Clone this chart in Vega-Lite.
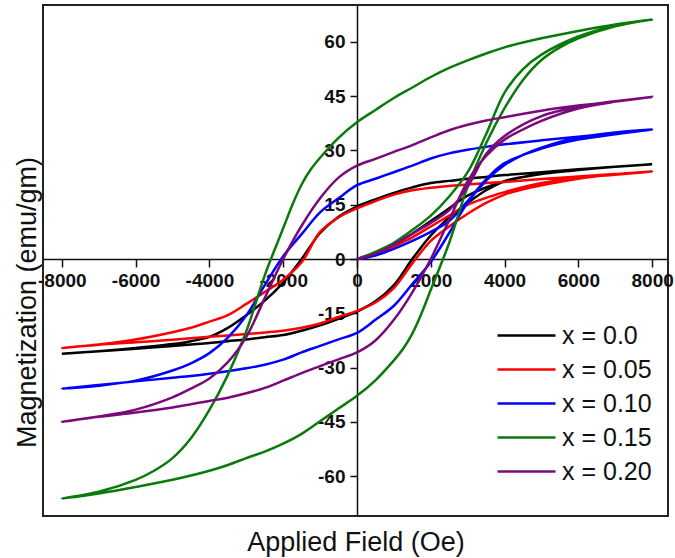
{
"$schema": "https://vega.github.io/schema/vega-lite/v6.json",
"width": 625, "height": 511,
"autosize": {"type": "none"},
"padding": {"left": 43, "top": 5, "right": 7, "bottom": 42},
"background": "white",
"config": {"view": {"stroke": "#222", "strokeWidth": 2}, "font": "Liberation Sans"},
"data": {"values": [
{"s":"x = 0.0","h":0,"m":0},{"s":"x = 0.0","h":500,"m":1.5},{"s":"x = 0.0","h":1000,"m":4},{"s":"x = 0.0","h":1500,"m":7},{"s":"x = 0.0","h":2000,"m":10.5},{"s":"x = 0.0","h":2500,"m":14},{"s":"x = 0.0","h":3000,"m":17.5},{"s":"x = 0.0","h":4000,"m":21.5},{"s":"x = 0.0","h":5000,"m":23.5},{"s":"x = 0.0","h":6000,"m":24.7},{"s":"x = 0.0","h":7000,"m":25.5},{"s":"x = 0.0","h":8000,"m":26.2},
{"s":"x = 0.0","h":7000,"m":25.5},{"s":"x = 0.0","h":6000,"m":24.8},{"s":"x = 0.0","h":5000,"m":24.0},{"s":"x = 0.0","h":4000,"m":23.2},{"s":"x = 0.0","h":3500,"m":22.7},{"s":"x = 0.0","h":3000,"m":22.2},{"s":"x = 0.0","h":2500,"m":21.6},{"s":"x = 0.0","h":2000,"m":21.0},{"s":"x = 0.0","h":1500,"m":19.8},{"s":"x = 0.0","h":1000,"m":18.3},{"s":"x = 0.0","h":500,"m":16.5},{"s":"x = 0.0","h":0,"m":14.5},{"s":"x = 0.0","h":-500,"m":11.7},{"s":"x = 0.0","h":-1000,"m":7.2},{"s":"x = 0.0","h":-1500,"m":0.0},{"s":"x = 0.0","h":-2000,"m":-6.5},{"s":"x = 0.0","h":-2500,"m":-11.5},{"s":"x = 0.0","h":-3000,"m":-15.5},{"s":"x = 0.0","h":-3500,"m":-19.0},{"s":"x = 0.0","h":-4000,"m":-21.5},{"s":"x = 0.0","h":-4500,"m":-22.7},{"s":"x = 0.0","h":-5000,"m":-23.5},{"s":"x = 0.0","h":-6000,"m":-24.6},{"s":"x = 0.0","h":-7000,"m":-25.5},{"s":"x = 0.0","h":-8000,"m":-26.2},
{"s":"x = 0.0","h":-7000,"m":-25.5},{"s":"x = 0.0","h":-6000,"m":-24.8},{"s":"x = 0.0","h":-5000,"m":-24.0},{"s":"x = 0.0","h":-4500,"m":-23.6},{"s":"x = 0.0","h":-4000,"m":-23.2},{"s":"x = 0.0","h":-3500,"m":-22.7},{"s":"x = 0.0","h":-3000,"m":-22.2},{"s":"x = 0.0","h":-2500,"m":-21.6},{"s":"x = 0.0","h":-2000,"m":-21.0},{"s":"x = 0.0","h":-1500,"m":-19.8},{"s":"x = 0.0","h":-1000,"m":-18.3},{"s":"x = 0.0","h":-500,"m":-16.5},{"s":"x = 0.0","h":0,"m":-14.5},{"s":"x = 0.0","h":500,"m":-11.7},{"s":"x = 0.0","h":1000,"m":-7.2},{"s":"x = 0.0","h":1500,"m":0.0},{"s":"x = 0.0","h":2000,"m":6.5},{"s":"x = 0.0","h":2500,"m":11.5},{"s":"x = 0.0","h":3000,"m":15.5},{"s":"x = 0.0","h":3500,"m":19.0},{"s":"x = 0.0","h":4000,"m":21.5},{"s":"x = 0.0","h":4500,"m":22.7},{"s":"x = 0.0","h":5000,"m":23.5},{"s":"x = 0.0","h":6000,"m":24.6},{"s":"x = 0.0","h":7000,"m":25.5},{"s":"x = 0.0","h":8000,"m":26.2},

{"s":"x = 0.05","h":0,"m":0},{"s":"x = 0.05","h":500,"m":1.2},{"s":"x = 0.05","h":1000,"m":3.5},{"s":"x = 0.05","h":1500,"m":6},{"s":"x = 0.05","h":2000,"m":9},{"s":"x = 0.05","h":2500,"m":12},{"s":"x = 0.05","h":3000,"m":15},{"s":"x = 0.05","h":4000,"m":18.5},{"s":"x = 0.05","h":5000,"m":21},{"s":"x = 0.05","h":6000,"m":22.5},{"s":"x = 0.05","h":7000,"m":23.3},{"s":"x = 0.05","h":8000,"m":24.2},
{"s":"x = 0.05","h":7000,"m":23.5},{"s":"x = 0.05","h":6000,"m":22.8},{"s":"x = 0.05","h":5000,"m":22.1},{"s":"x = 0.05","h":4000,"m":21.3},{"s":"x = 0.05","h":3500,"m":21.0},{"s":"x = 0.05","h":3000,"m":20.6},{"s":"x = 0.05","h":2500,"m":20.2},{"s":"x = 0.05","h":2000,"m":19.7},{"s":"x = 0.05","h":1500,"m":19.0},{"s":"x = 0.05","h":1000,"m":17.8},{"s":"x = 0.05","h":500,"m":16.0},{"s":"x = 0.05","h":0,"m":14.0},{"s":"x = 0.05","h":-500,"m":11.5},{"s":"x = 0.05","h":-1000,"m":7.5},{"s":"x = 0.05","h":-1500,"m":-0.9},{"s":"x = 0.05","h":-2000,"m":-5.7},{"s":"x = 0.05","h":-2500,"m":-9.1},{"s":"x = 0.05","h":-3000,"m":-12.4},{"s":"x = 0.05","h":-3500,"m":-15.5},{"s":"x = 0.05","h":-4000,"m":-17.3},{"s":"x = 0.05","h":-4500,"m":-19.0},{"s":"x = 0.05","h":-5000,"m":-20.2},{"s":"x = 0.05","h":-6000,"m":-22.2},{"s":"x = 0.05","h":-7000,"m":-23.6},{"s":"x = 0.05","h":-8000,"m":-24.6},
{"s":"x = 0.05","h":-7000,"m":-23.7},{"s":"x = 0.05","h":-6000,"m":-23.0},{"s":"x = 0.05","h":-5000,"m":-22.3},{"s":"x = 0.05","h":-4500,"m":-21.9},{"s":"x = 0.05","h":-4000,"m":-21.5},{"s":"x = 0.05","h":-3500,"m":-21.1},{"s":"x = 0.05","h":-3000,"m":-20.7},{"s":"x = 0.05","h":-2500,"m":-20.3},{"s":"x = 0.05","h":-2000,"m":-19.8},{"s":"x = 0.05","h":-1500,"m":-19.0},{"s":"x = 0.05","h":-1000,"m":-17.8},{"s":"x = 0.05","h":-500,"m":-16.0},{"s":"x = 0.05","h":0,"m":-14.3},{"s":"x = 0.05","h":500,"m":-12.0},{"s":"x = 0.05","h":1000,"m":-8.0},{"s":"x = 0.05","h":1500,"m":-1.2},{"s":"x = 0.05","h":2000,"m":5.0},{"s":"x = 0.05","h":2500,"m":9.0},{"s":"x = 0.05","h":3000,"m":12.5},{"s":"x = 0.05","h":3500,"m":15.5},{"s":"x = 0.05","h":4000,"m":17.8},{"s":"x = 0.05","h":4500,"m":19.3},{"s":"x = 0.05","h":5000,"m":20.4},{"s":"x = 0.05","h":6000,"m":22.2},{"s":"x = 0.05","h":7000,"m":23.4},{"s":"x = 0.05","h":8000,"m":24.2},

{"s":"x = 0.10","h":0,"m":0},{"s":"x = 0.10","h":500,"m":1},{"s":"x = 0.10","h":1000,"m":2.8},{"s":"x = 0.10","h":1500,"m":5},{"s":"x = 0.10","h":2000,"m":7.5},{"s":"x = 0.10","h":2500,"m":10.5},{"s":"x = 0.10","h":3000,"m":16},{"s":"x = 0.10","h":3500,"m":22},{"s":"x = 0.10","h":4000,"m":26.5},{"s":"x = 0.10","h":5000,"m":30.5},{"s":"x = 0.10","h":6000,"m":33},{"s":"x = 0.10","h":7000,"m":34.5},{"s":"x = 0.10","h":8000,"m":35.8},
{"s":"x = 0.10","h":7000,"m":34.8},{"s":"x = 0.10","h":6000,"m":33.8},{"s":"x = 0.10","h":5000,"m":32.8},{"s":"x = 0.10","h":4000,"m":31.7},{"s":"x = 0.10","h":3500,"m":31.0},{"s":"x = 0.10","h":3000,"m":30.2},{"s":"x = 0.10","h":2500,"m":29.2},{"s":"x = 0.10","h":2000,"m":27.8},{"s":"x = 0.10","h":1500,"m":25.8},{"s":"x = 0.10","h":1000,"m":24.0},{"s":"x = 0.10","h":500,"m":22.2},{"s":"x = 0.10","h":0,"m":20.4},{"s":"x = 0.10","h":-500,"m":16.8},{"s":"x = 0.10","h":-1000,"m":12.9},{"s":"x = 0.10","h":-1500,"m":6.9},{"s":"x = 0.10","h":-2000,"m":0.8},{"s":"x = 0.10","h":-2500,"m":-7.2},{"s":"x = 0.10","h":-3000,"m":-15.6},{"s":"x = 0.10","h":-3500,"m":-21.7},{"s":"x = 0.10","h":-4000,"m":-26.0},{"s":"x = 0.10","h":-4500,"m":-28.8},{"s":"x = 0.10","h":-5000,"m":-30.8},{"s":"x = 0.10","h":-6000,"m":-33.6},{"s":"x = 0.10","h":-7000,"m":-35.0},{"s":"x = 0.10","h":-8000,"m":-35.8},
{"s":"x = 0.10","h":-7000,"m":-34.8},{"s":"x = 0.10","h":-6000,"m":-33.8},{"s":"x = 0.10","h":-5000,"m":-32.8},{"s":"x = 0.10","h":-4500,"m":-32.3},{"s":"x = 0.10","h":-4000,"m":-31.7},{"s":"x = 0.10","h":-3500,"m":-31.0},{"s":"x = 0.10","h":-3000,"m":-30.2},{"s":"x = 0.10","h":-2500,"m":-29.2},{"s":"x = 0.10","h":-2000,"m":-27.8},{"s":"x = 0.10","h":-1500,"m":-25.8},{"s":"x = 0.10","h":-1000,"m":-24.0},{"s":"x = 0.10","h":-500,"m":-22.2},{"s":"x = 0.10","h":0,"m":-20.4},{"s":"x = 0.10","h":500,"m":-16.8},{"s":"x = 0.10","h":1000,"m":-12.9},{"s":"x = 0.10","h":1500,"m":-6.9},{"s":"x = 0.10","h":2000,"m":-0.8},{"s":"x = 0.10","h":2500,"m":7.2},{"s":"x = 0.10","h":3000,"m":15.6},{"s":"x = 0.10","h":3500,"m":21.7},{"s":"x = 0.10","h":4000,"m":26.0},{"s":"x = 0.10","h":4500,"m":28.8},{"s":"x = 0.10","h":5000,"m":30.8},{"s":"x = 0.10","h":6000,"m":33.6},{"s":"x = 0.10","h":7000,"m":35.0},{"s":"x = 0.10","h":8000,"m":35.8},

{"s":"x = 0.15","h":0,"m":0},{"s":"x = 0.15","h":500,"m":2},{"s":"x = 0.15","h":1000,"m":4.5},{"s":"x = 0.15","h":1500,"m":8},{"s":"x = 0.15","h":2000,"m":12},{"s":"x = 0.15","h":2500,"m":17.3},{"s":"x = 0.15","h":3000,"m":24},{"s":"x = 0.15","h":3500,"m":34.5},{"s":"x = 0.15","h":4000,"m":46},{"s":"x = 0.15","h":4500,"m":52.5},{"s":"x = 0.15","h":5000,"m":56.5},{"s":"x = 0.15","h":6000,"m":61.5},{"s":"x = 0.15","h":7000,"m":64.5},{"s":"x = 0.15","h":8000,"m":66.2},
{"s":"x = 0.15","h":7000,"m":64.8},{"s":"x = 0.15","h":6000,"m":63.0},{"s":"x = 0.15","h":5000,"m":61.0},{"s":"x = 0.15","h":4000,"m":58.5},{"s":"x = 0.15","h":3500,"m":56.8},{"s":"x = 0.15","h":3000,"m":54.9},{"s":"x = 0.15","h":2500,"m":52.8},{"s":"x = 0.15","h":2000,"m":50.3},{"s":"x = 0.15","h":1500,"m":47.4},{"s":"x = 0.15","h":1000,"m":44.5},{"s":"x = 0.15","h":500,"m":41.2},{"s":"x = 0.15","h":0,"m":37.8},{"s":"x = 0.15","h":-500,"m":33.5},{"s":"x = 0.15","h":-1000,"m":28.0},{"s":"x = 0.15","h":-1250,"m":24.8},{"s":"x = 0.15","h":-1500,"m":20.6},{"s":"x = 0.15","h":-1750,"m":15.0},{"s":"x = 0.15","h":-2000,"m":8.5},{"s":"x = 0.15","h":-2500,"m":-4.5},{"s":"x = 0.15","h":-3000,"m":-20.0},{"s":"x = 0.15","h":-3500,"m":-32.0},{"s":"x = 0.15","h":-4000,"m":-41.7},{"s":"x = 0.15","h":-4500,"m":-49.5},{"s":"x = 0.15","h":-5000,"m":-55.0},{"s":"x = 0.15","h":-5500,"m":-58.5},{"s":"x = 0.15","h":-6000,"m":-61.0},{"s":"x = 0.15","h":-7000,"m":-64.3},{"s":"x = 0.15","h":-8000,"m":-66.2},
{"s":"x = 0.15","h":-7000,"m":-64.8},{"s":"x = 0.15","h":-6000,"m":-63.0},{"s":"x = 0.15","h":-5000,"m":-61.0},{"s":"x = 0.15","h":-4000,"m":-58.5},{"s":"x = 0.15","h":-3500,"m":-56.9},{"s":"x = 0.15","h":-3000,"m":-55.0},{"s":"x = 0.15","h":-2500,"m":-53.2},{"s":"x = 0.15","h":-2000,"m":-51.0},{"s":"x = 0.15","h":-1500,"m":-48.3},{"s":"x = 0.15","h":-1000,"m":-44.8},{"s":"x = 0.15","h":-500,"m":-41.3},{"s":"x = 0.15","h":0,"m":-37.8},{"s":"x = 0.15","h":500,"m":-33.5},{"s":"x = 0.15","h":1000,"m":-28.0},{"s":"x = 0.15","h":1250,"m":-24.8},{"s":"x = 0.15","h":1500,"m":-20.6},{"s":"x = 0.15","h":1750,"m":-15.0},{"s":"x = 0.15","h":2000,"m":-8.5},{"s":"x = 0.15","h":2500,"m":4.5},{"s":"x = 0.15","h":3000,"m":20.0},{"s":"x = 0.15","h":3500,"m":32.0},{"s":"x = 0.15","h":4000,"m":41.7},{"s":"x = 0.15","h":4500,"m":49.5},{"s":"x = 0.15","h":5000,"m":55.0},{"s":"x = 0.15","h":5500,"m":58.5},{"s":"x = 0.15","h":6000,"m":61.0},{"s":"x = 0.15","h":7000,"m":64.3},{"s":"x = 0.15","h":8000,"m":66.2},

{"s":"x = 0.20","h":0,"m":0},{"s":"x = 0.20","h":500,"m":1.5},{"s":"x = 0.20","h":1000,"m":4},{"s":"x = 0.20","h":1500,"m":7},{"s":"x = 0.20","h":2000,"m":10},{"s":"x = 0.20","h":2500,"m":13.5},{"s":"x = 0.20","h":3000,"m":20},{"s":"x = 0.20","h":3500,"m":29},{"s":"x = 0.20","h":4000,"m":34},{"s":"x = 0.20","h":5000,"m":39.5},{"s":"x = 0.20","h":6000,"m":42},{"s":"x = 0.20","h":7000,"m":43.5},{"s":"x = 0.20","h":8000,"m":44.8},
{"s":"x = 0.20","h":7000,"m":43.6},{"s":"x = 0.20","h":6000,"m":42.4},{"s":"x = 0.20","h":5000,"m":41.0},{"s":"x = 0.20","h":4000,"m":39.2},{"s":"x = 0.20","h":3500,"m":38.3},{"s":"x = 0.20","h":3000,"m":37.1},{"s":"x = 0.20","h":2500,"m":35.6},{"s":"x = 0.20","h":2000,"m":33.6},{"s":"x = 0.20","h":1500,"m":31.5},{"s":"x = 0.20","h":1000,"m":29.6},{"s":"x = 0.20","h":500,"m":27.7},{"s":"x = 0.20","h":0,"m":25.8},{"s":"x = 0.20","h":-500,"m":22.5},{"s":"x = 0.20","h":-1000,"m":16.8},{"s":"x = 0.20","h":-1500,"m":9.2},{"s":"x = 0.20","h":-2000,"m":0.0},{"s":"x = 0.20","h":-2500,"m":-10.8},{"s":"x = 0.20","h":-3000,"m":-21.5},{"s":"x = 0.20","h":-3500,"m":-28.5},{"s":"x = 0.20","h":-4000,"m":-33.0},{"s":"x = 0.20","h":-4500,"m":-35.8},{"s":"x = 0.20","h":-5000,"m":-38.2},{"s":"x = 0.20","h":-6000,"m":-41.6},{"s":"x = 0.20","h":-7000,"m":-43.5},{"s":"x = 0.20","h":-8000,"m":-45.0},
{"s":"x = 0.20","h":-7000,"m":-43.6},{"s":"x = 0.20","h":-6000,"m":-42.4},{"s":"x = 0.20","h":-5000,"m":-41.0},{"s":"x = 0.20","h":-4500,"m":-40.1},{"s":"x = 0.20","h":-4000,"m":-39.2},{"s":"x = 0.20","h":-3500,"m":-38.3},{"s":"x = 0.20","h":-3000,"m":-37.1},{"s":"x = 0.20","h":-2500,"m":-35.6},{"s":"x = 0.20","h":-2000,"m":-33.6},{"s":"x = 0.20","h":-1500,"m":-31.5},{"s":"x = 0.20","h":-1000,"m":-29.6},{"s":"x = 0.20","h":-500,"m":-27.7},{"s":"x = 0.20","h":0,"m":-25.8},{"s":"x = 0.20","h":500,"m":-22.5},{"s":"x = 0.20","h":1000,"m":-16.8},{"s":"x = 0.20","h":1500,"m":-9.2},{"s":"x = 0.20","h":2000,"m":0.0},{"s":"x = 0.20","h":2500,"m":10.8},{"s":"x = 0.20","h":3000,"m":21.5},{"s":"x = 0.20","h":3500,"m":28.5},{"s":"x = 0.20","h":4000,"m":33.0},{"s":"x = 0.20","h":4500,"m":35.8},{"s":"x = 0.20","h":5000,"m":38.2},{"s":"x = 0.20","h":6000,"m":41.6},{"s":"x = 0.20","h":7000,"m":43.5},{"s":"x = 0.20","h":8000,"m":44.8}
]},
"mark": {"type": "line", "strokeWidth": 2.5, "interpolate": "catmull-rom"},
"encoding": {
  "x": {"field": "h", "type": "quantitative",
    "scale": {"domain": [-8510, 8430], "nice": false, "zero": false},
    "axis": {"orient": "bottom", "offset": -257, "values": [-8000,-6000,-4000,-2000,0,2000,4000,6000,8000],
      "labelExpr": "datum.value + ''", "grid": false, "tickSize": 8, "tickWidth": 1.5, "tickColor": "#111",
      "domainColor": "#111", "domainWidth": 1.5, "labelFont": "Liberation Sans", "labelFontWeight": "bold",
      "labelFontSize": 19, "labelColor": "#111", "labelPadding": 4, "labelFlush": false, "labelOverlap": false,
      "title": "Applied Field (Oe)", "titleFont": "Liberation Sans", "titleFontSize": 27, "titleFontWeight": "normal",
      "titleColor": "#111", "titleY": 291, "titleBaseline": "alphabetic"}},
  "y": {"field": "m", "type": "quantitative",
    "scale": {"domain": [-71, 70.2], "nice": false, "zero": false},
    "axis": {"orient": "left", "offset": -314, "values": [-60,-45,-30,-15,0,15,30,45,60],
      "labelExpr": "datum.value + ''", "grid": false, "tickSize": 7, "tickWidth": 1.5, "tickColor": "#111",
      "domainColor": "#111", "domainWidth": 1.5, "labelFont": "Liberation Sans", "labelFontWeight": "bold",
      "labelFontSize": 19, "labelColor": "#111", "labelPadding": 5, "labelFlush": false, "labelOverlap": false,
      "title": "Magnetization (emu/gm)", "titleFont": "Liberation Sans", "titleFontSize": 27, "titleFontWeight": "normal",
      "titleColor": "#111", "titleX": -322, "titleY": 297, "titleAngle": -90, "titleAlign": "center", "titleBaseline": "alphabetic"}},
  "color": {"field": "s", "type": "nominal",
    "scale": {"domain": ["x = 0.0","x = 0.05","x = 0.10","x = 0.15","x = 0.20"], "range": ["#000000","#ff0000","#0000ff","#0a7a0a","#7a0a7a"]},
    "legend": {"orient": "none", "legendX": 471, "legendY": 318, "title": null, "symbolType": "M-2.9,0H2.9", "symbolSize": 400,
      "symbolStrokeWidth": 2.5, "labelFont": "Liberation Sans", "labelFontSize": 25, "labelColor": "#111", "labelOffset": 23,
      "rowPadding": 8, "padding": 0}},
  "order": {"value": null}
}
}
